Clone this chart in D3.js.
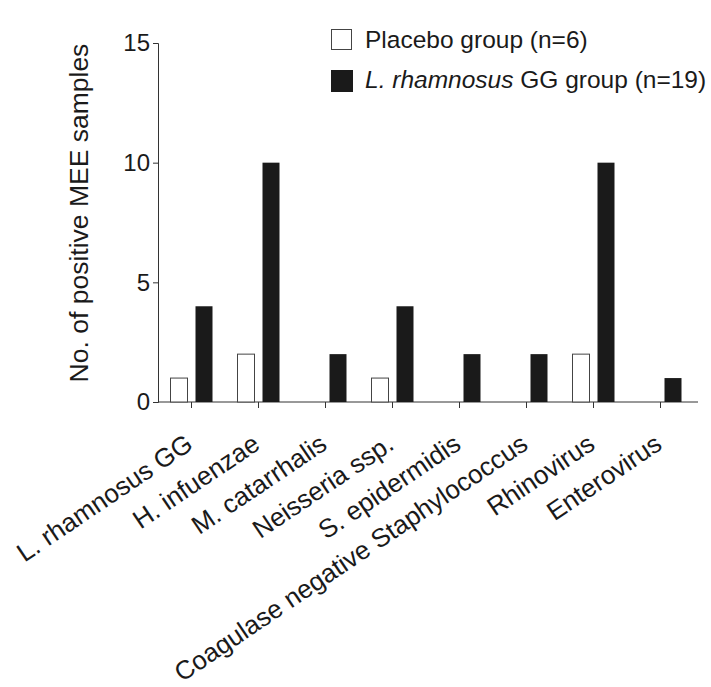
<!DOCTYPE html>
<html>
<head>
<meta charset="utf-8">
<script src="https://cdn.jsdelivr.net/npm/d3@7"></script>
<style>
  body { margin: 0; background: #fff; }
  text { font-family: "Liberation Sans", Arial, sans-serif; fill: #1a1a1a; }
</style>
</head>
<body>
<svg id="chart" width="711" height="687"></svg>
<script>
// Data
const categories = ["L. rhamnosus GG", "H. infuenzae", "M. catarrhalis", "Neisseria ssp.",
  "S. epidermidis", "Coagulase negative Staphylococcus", "Rhinovirus", "Enterovirus"];
const placeboValues = [1, 2, 0, 1, 0, 0, 2, 0];
const lggValues = [4, 10, 2, 4, 2, 2, 10, 1];
const yTicks = [0, 5, 10, 15];

const svg = d3.select("#chart");

const x = d3.scaleBand()
  .domain(categories)
  .range([158, 694]);

const y = d3.scaleLinear()
  .domain([0, 15])
  .range([402, 43]);

const barW = 17, gap = 8;

// y axis
const yAxis = svg.append("g")
  .attr("transform", "translate(158,0)")
  .call(d3.axisLeft(y).tickValues(yTicks).tickSize(5).tickPadding(3));
yAxis.select(".domain").attr("stroke", "#333");
yAxis.selectAll(".tick line").attr("stroke", "#333");
yAxis.selectAll(".tick text").attr("font-size", "24px").attr("fill", "#1a1a1a")
  .attr("font-family", "Liberation Sans, Arial, sans-serif");

// x axis
const xAxis = svg.append("g")
  .attr("transform", "translate(0,402)")
  .call(d3.axisBottom(x).tickSizeOuter(0).tickSize(6).tickFormat(""));
xAxis.select(".domain").attr("stroke", "#333").attr("d", "M158,0H698");
xAxis.selectAll(".tick line").attr("stroke", "#333");

// bars
const groups = svg.append("g").selectAll("g")
  .data(categories)
  .join("g")
  .attr("transform", d => `translate(${x(d) + x.bandwidth() / 2},0)`);

groups.append("rect")
  .filter((d, i) => placeboValues[i] > 0)
  .attr("x", -gap / 2 - barW)
  .attr("width", barW)
  .attr("y", d => y(placeboValues[categories.indexOf(d)]))
  .attr("height", d => y(0) - y(placeboValues[categories.indexOf(d)]))
  .attr("fill", "#fff")
  .attr("stroke", "#444")
  .attr("stroke-width", 1);

groups.append("rect")
  .attr("x", gap / 2)
  .attr("width", barW)
  .attr("y", d => y(lggValues[categories.indexOf(d)]))
  .attr("height", d => y(0) - y(lggValues[categories.indexOf(d)]))
  .attr("fill", "#1a1a1a");

// x labels, rotated
svg.append("g").selectAll("text")
  .data(categories)
  .join("text")
  .attr("transform", d => `translate(${x(d) + x.bandwidth() / 2 + 3},448) rotate(-34)`)
  .attr("text-anchor", "end")
  .attr("font-size", "26px")
  .text(d => d);

// y title
svg.append("text")
  .attr("transform", "rotate(-90)")
  .attr("x", -213)
  .attr("y", 88)
  .attr("text-anchor", "middle")
  .attr("font-size", "26.5px")
  .text("No. of positive MEE samples");

// legend
const legend = svg.append("g").attr("transform", "translate(331,29)");
legend.append("rect")
  .attr("x", 0.5).attr("y", 0.5)
  .attr("width", 20).attr("height", 20)
  .attr("fill", "#fff").attr("stroke", "#444");
legend.append("text")
  .attr("x", 34).attr("y", 19)
  .attr("font-size", "24.5px")
  .text("Placebo group (n=6)");
legend.append("rect")
  .attr("y", 41)
  .attr("width", 22).attr("height", 22)
  .attr("fill", "#1a1a1a");
const t2 = legend.append("text")
  .attr("x", 34).attr("y", 59)
  .attr("font-size", "24.5px");
t2.append("tspan").attr("font-style", "italic").text("L. rhamnosus");
t2.append("tspan").text(" GG group (n=19)");
</script>
</body>
</html>
